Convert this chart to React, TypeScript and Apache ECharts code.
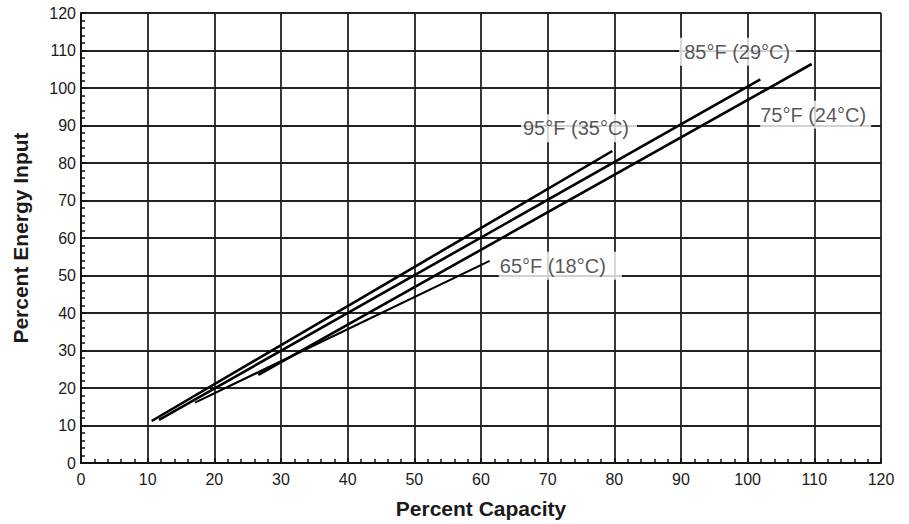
import React, { useEffect, useRef } from "react";
import * as echarts from "echarts";

// [percent capacity, percent energy input]
const line95F: [number, number][] = [[10.6, 11.2], [79.7, 83.2]];
const line85F: [number, number][] = [[11.7, 11.5], [101.9, 102.3]];
const line75F: [number, number][] = [[26.6, 23.5], [109.6, 106.4]];
const line65F: [number, number][] = [[17.1, 16.1], [61.3, 53.9]];

const seriesNames = ["95°F (35°C)", "85°F (29°C)", "75°F (24°C)", "65°F (18°C)"];
// label anchors in data units [x, y]
const labelAnchors: [number, number][] = [[74.7, 89.3], [98.5, 109.7], [110.2, 92.9], [71.9, 52.6]];

const xTicks = { min: 0, max: 120, interval: 10 };
const yTicks = { min: 0, max: 120, interval: 10 };

export default function App() {
  const ref = useRef<HTMLDivElement>(null);
  useEffect(() => {
    if (!ref.current) return;
    const chart = echarts.init(ref.current, undefined, { renderer: "svg" });
    const lines = [line95F, line85F, line75F, line65F];
    const widths = [2.6, 2.6, 2.6, 2.1];
    const pads = [
      [4, 8, 4, 2],
      [4, 6, 4, 5],
      [4, 5, 4, 0],
      [4, 16, 4, 1],
    ];
    const font = "Liberation Sans, Arial, Helvetica, sans-serif";
    chart.setOption({
      animation: false,
      backgroundColor: "#fff",
      grid: { left: 81, right: 28, top: 13, bottom: 61, containLabel: false },
      xAxis: {
        type: "value",
        min: xTicks.min,
        max: xTicks.max,
        interval: xTicks.interval,
        name: "Percent Capacity",
        nameLocation: "middle",
        nameGap: 35,
        nameTextStyle: { fontFamily: font, fontWeight: "bold", fontSize: 21, color: "#1a1a1a" },
        axisLine: { show: true, lineStyle: { color: "#111", width: 2 } },
        axisTick: { show: true, inside: true, length: 5, lineStyle: { color: "#111", width: 1.5 } },
        minorTick: { show: true, splitNumber: 5, length: 4, lineStyle: { color: "#111", width: 1.5 } },
        axisLabel: { fontFamily: font, fontSize: 16, color: "#1a1a1a", margin: 8 },
        splitLine: { show: true, lineStyle: { color: "#222", width: 1.8 } },
      },
      yAxis: {
        type: "value",
        min: yTicks.min,
        max: yTicks.max,
        interval: yTicks.interval,
        name: "Percent Energy Input",
        nameLocation: "middle",
        nameGap: 50,
        nameTextStyle: { fontFamily: font, fontWeight: "bold", fontSize: 21, color: "#1a1a1a" },
        axisLine: { show: true, lineStyle: { color: "#111", width: 2 } },
        axisTick: { show: true, inside: true, length: 5, lineStyle: { color: "#111", width: 1.5 } },
        minorTick: { show: true, splitNumber: 5, length: 4, lineStyle: { color: "#111", width: 1.5 } },
        axisLabel: { fontFamily: font, fontSize: 16, color: "#1a1a1a", margin: 5 },
        splitLine: { show: true, lineStyle: { color: "#222", width: 1.8 } },
      },
      series: [
        ...lines.map((d, i) => ({
          name: seriesNames[i],
          type: "line",
          data: d,
          symbol: "none",
          lineStyle: { color: "#000", width: widths[i] },
          z: 3,
        })),
        {
          name: "labels",
          type: "scatter",
          symbolSize: 0,
          z: 5,
          data: labelAnchors.map((p, i) => ({
            value: p,
            label: {
              show: true,
              position: "inside",
              formatter: seriesNames[i],
              fontFamily: font,
              fontSize: 20,
              color: "#2b2b2b",
              backgroundColor: "#fff",
              padding: pads[i],
            },
          })),
        },
      ],
    });
    return () => chart.dispose();
  }, []);
  return <div ref={ref} style={{ width: 909, height: 524, position: "absolute", left: 0, top: 0 }} />;
}
